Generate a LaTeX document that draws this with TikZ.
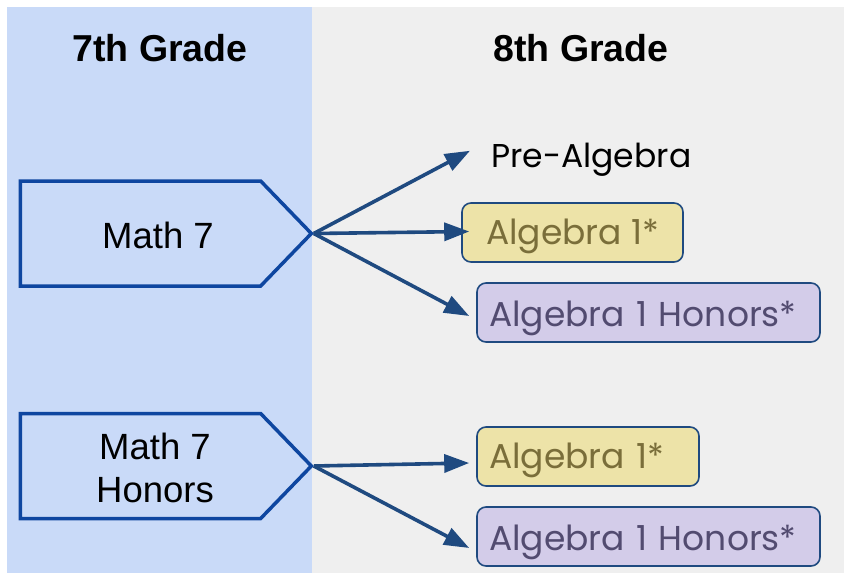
\documentclass[tikz,border=0pt]{standalone}
\usepackage{fontspec}
\setmainfont{Liberation Sans}
\newfontfamily\coursefont{Poppins}
\usetikzlibrary{positioning,calc,arrows.meta,shapes.symbols}
\definecolor{PanelBlue}{RGB}{201,218,248}
\definecolor{PanelGray}{RGB}{239,239,239}
\definecolor{EdgeBlue}{RGB}{14,70,160}
\definecolor{ArrowBlue}{RGB}{31,74,128}
\definecolor{AlgFill}{RGB}{237,227,168}
\definecolor{AlgText}{RGB}{122,110,58}
\definecolor{HonFill}{RGB}{211,204,233}
\definecolor{HonText}{RGB}{82,75,112}

\begin{document}
\begin{tikzpicture}[
    x=1pt, y=-1pt,
    >={Triangle[length=25pt,width=18pt]},
    heading/.style={
        font=\fontsize{37.5}{40}\selectfont\bfseries
    },
    grade7/.style={
        signal,
        signal to=east,
        signal pointer angle=92,
        draw=EdgeBlue,
        line width=3.5pt,
        fill=PanelBlue,
        minimum width=291pt,
        minimum height=105pt
    },
    gradetext/.style={
        align=center,
        font=\fontsize{36.5}{43}\selectfont
    },
    course/.style={
        draw=ArrowBlue,
        line width=1.6pt,
        rounded corners=9pt,
        minimum height=59pt,
        inner xsep=12pt,
        inner ysep=0pt,
        align=left,
        font=\coursefont\fontsize{34.5}{38}\selectfont
    },
    alg/.style={course, fill=AlgFill, text=AlgText, text height=30pt, text depth=7pt},
    hon/.style={course, fill=HonFill, text=HonText, text height=32pt, text depth=4pt},
    arrow/.style={
        ->,
        line width=3.6pt,
        draw=ArrowBlue
    }
]
\useasboundingbox (0,0) rectangle (844,573);

% columns
\fill[PanelBlue] (7,7) rectangle (312,573);
\fill[PanelGray] (312,7) rectangle (844,573);

\node[heading] (g7) at (160,48) {7th Grade};
\node[heading] (g8) at (581,48) {8th Grade};

% 7th grade courses
\node[grade7] (m7) at (140.5,233.5) {};
\node[gradetext] (m7t) at (158,235) {Math 7};
\node[grade7] (m7h) at (140.5,466) {};
\node[gradetext] (m7ht) at (155,468) {Math 7\\Honors};

% 8th grade courses
\node[anchor=base west, inner sep=0pt, font=\coursefont\fontsize{33}{38}\selectfont]
    (pre) at (491,167) {Pre-Algebra};
\node[alg, align=center, minimum width=221pt] (alga) at (572.5,232.5) {Algebra 1*};
\node[hon, text width=319pt] (hona) at (648.5,312.5) {Algebra 1 Honors*};
\node[alg, text width=198pt] (algb) at (588,456.5) {Algebra 1*};
\node[hon, text width=319pt] (honb) at (648.5,536.5) {Algebra 1 Honors*};

\draw[arrow] (m7.east) -- ([xshift=-21pt,yshift=8.5pt]pre.west);
\draw[arrow] (m7.east) -- ([xshift=8pt,yshift=1pt]alga.west);
\draw[arrow] (m7.east) -- ([xshift=-7pt,yshift=-3.5pt]hona.west);

\draw[arrow] (m7h.east) -- ([xshift=-7pt,yshift=-6.5pt]algb.west);
\draw[arrow] (m7h.east) -- ([xshift=-7pt,yshift=-11.5pt]honb.west);

\end{tikzpicture}
\end{document}
